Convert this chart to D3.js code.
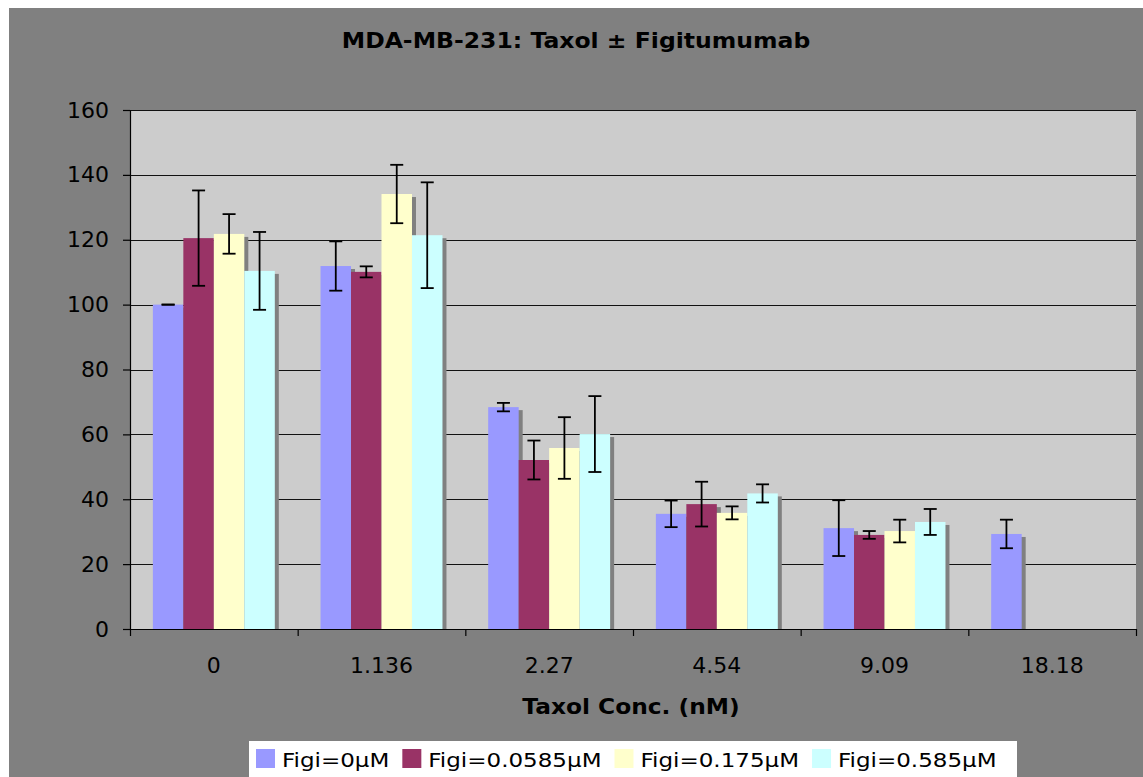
<!DOCTYPE html>
<html>
<head>
<meta charset="utf-8">
<script src="https://cdn.jsdelivr.net/npm/d3@7"></script>
<style>
  body { margin: 0; background: #fff; }
  text { font-family: "DejaVu Sans", Verdana, sans-serif; fill: #000; }
</style>
</head>
<body>
<div id="chart"></div>
<script>
// data
var categories = ['0', '1.136', '2.27', '4.54', '9.09', '18.18'];
var seriesNames = ['Figi=0\u03bcM', 'Figi=0.0585\u03bcM', 'Figi=0.175\u03bcM', 'Figi=0.585\u03bcM'];
var seriesColors = ['#9999ff', '#993366', '#ffffcc', '#ccffff'];
var figi0     = [100, 111.9, 68.4, 35.5, 31.1, 29.3];
var figi0585  = [120.5, 110.1, 52.1, 38.5, 29.0, null];
var figi175   = [121.8, 134.1, 55.8, 35.8, 30.2, null];
var figi585   = [110.4, 121.4, 60.1, 41.8, 33.0, null];
var err0      = [0, 7.6, 1.3, 4.1, 8.6, 4.4];
var err0585   = [14.7, 1.7, 6.0, 6.9, 1.2, null];
var err175    = [6.1, 9.0, 9.5, 2.0, 3.5, null];
var err585    = [12.0, 16.3, 11.7, 2.8, 4.0, null];
var yTicks    = [0, 20, 40, 60, 80, 100, 120, 140, 160];

var width = 1143, height = 777;
var plotLeft = 130, plotRight = 1136, plotTop = 110, plotBottom = 629;

var values = [figi0, figi0585, figi175, figi585];
var errors = [err0, err0585, err175, err585];

var bars = [];
values.forEach(function(vals, s) {
  vals.forEach(function(v, c) {
    if (v != null) bars.push({cat: categories[c], series: seriesNames[s], s: s, value: v, err: errors[s][c]});
  });
});

var svg = d3.select('#chart').append('svg')
  .attr('width', width)
  .attr('height', height);

// chart background
svg.append('rect')
  .attr('x', 9).attr('y', 8)
  .attr('width', width - 9).attr('height', height - 8)
  .attr('fill', '#808080');

var x0 = d3.scaleBand().domain(categories).range([plotLeft, plotRight]).padding(0);
var x1 = d3.scaleBand().domain(seriesNames).range([0, x0.bandwidth()])
  .paddingInner(0).paddingOuter(0.75);
var y = d3.scaleLinear().domain([0, 160]).range([plotBottom, plotTop]);
var color = d3.scaleOrdinal().domain(seriesNames).range(seriesColors);

// plot area
svg.append('rect')
  .attr('x', plotLeft).attr('y', plotTop)
  .attr('width', plotRight - plotLeft).attr('height', plotBottom - plotTop)
  .attr('fill', '#cccccc');

// gridlines
svg.append('g').selectAll('line')
  .data(yTicks.filter(function(d) { return d > 0; }))
  .enter().append('line')
  .attr('x1', plotLeft).attr('x2', plotRight)
  .attr('y1', function(d) { return Math.round(y(d)) + 0.5; })
  .attr('y2', function(d) { return Math.round(y(d)) + 0.5; })
  .attr('stroke', '#111')
  .attr('stroke-width', 1);

// bar shadows first, then bars
svg.append('g').selectAll('rect')
  .data(bars)
  .enter().append('rect')
  .attr('x', function(d) { return x0(d.cat) + x1(d.series) + 4; })
  .attr('y', function(d) { return y(d.value) + 3; })
  .attr('width', x1.bandwidth())
  .attr('height', function(d) { return Math.max(0, y(0) - y(d.value) - 3); })
  .attr('fill', '#808080');

svg.append('g').selectAll('rect')
  .data(bars)
  .enter().append('rect')
  .attr('x', function(d) { return x0(d.cat) + x1(d.series); })
  .attr('y', function(d) { return y(d.value); })
  .attr('width', x1.bandwidth())
  .attr('height', function(d) { return y(0) - y(d.value); })
  .attr('fill', function(d) { return color(d.series); });

// error bars
var eb = svg.append('g').selectAll('g')
  .data(bars)
  .enter().append('g')
  .attr('transform', function(d) {
    return 'translate(' + (x0(d.cat) + x1(d.series) + x1.bandwidth() / 2) + ',0)';
  })
  .attr('stroke', '#000')
  .attr('stroke-width', 1.8);

eb.append('line')
  .attr('x1', 0).attr('x2', 0)
  .attr('y1', function(d) { return y(d.value + d.err); })
  .attr('y2', function(d) { return y(d.value - d.err); });
eb.append('line')
  .attr('x1', -6.5).attr('x2', 6.5)
  .attr('y1', function(d) { return y(d.value + d.err); })
  .attr('y2', function(d) { return y(d.value + d.err); });
eb.append('line')
  .attr('x1', -6.5).attr('x2', 6.5)
  .attr('y1', function(d) { return y(d.value - d.err); })
  .attr('y2', function(d) { return y(d.value - d.err); });

// y axis
var yAxis = svg.append('g')
  .attr('transform', 'translate(' + plotLeft + ',0)')
  .call(d3.axisLeft(y).tickValues(yTicks).tickSize(7).tickPadding(14).tickSizeOuter(0));
yAxis.select('.domain').attr('stroke', '#000').attr('stroke-width', 1.2);
yAxis.selectAll('.tick line').attr('stroke', '#000').attr('stroke-width', 1.2);
yAxis.selectAll('.tick text')
  .style('font-size', '22px')
  .style('font-family', '"DejaVu Sans", Verdana, sans-serif')
  .attr('fill', '#000');

// x axis: tick marks at category edges, labels at centres
var xEdges = d3.scaleLinear().domain([0, categories.length]).range([plotLeft, plotRight]);
var xAxis = svg.append('g')
  .attr('transform', 'translate(0,' + plotBottom + ')')
  .call(d3.axisBottom(xEdges).ticks(categories.length).tickSize(7).tickFormat('').tickSizeOuter(0));
xAxis.select('.domain').attr('stroke', '#000').attr('stroke-width', 1.2);
xAxis.selectAll('.tick line').attr('stroke', '#000').attr('stroke-width', 1.2);

var xLabels = svg.append('g')
  .attr('transform', 'translate(0,' + plotBottom + ')')
  .call(d3.axisBottom(x0).tickSize(0).tickPadding(28));
xLabels.select('.domain').remove();
xLabels.selectAll('.tick text')
  .style('font-size', '22px')
  .style('font-family', '"DejaVu Sans", Verdana, sans-serif')
  .attr('fill', '#000');

// titles
function stretch(sel, k) {
  sel.each(function() {
    var w = this.getComputedTextLength();
    d3.select(this).attr('textLength', w * k).attr('lengthAdjust', 'spacingAndGlyphs');
  });
}

svg.append('text')
  .attr('x', 576).attr('y', 48)
  .attr('text-anchor', 'middle')
  .style('font-size', '21px').style('font-weight', 'bold')
  .text('MDA-MB-231: Taxol \u00b1 Figitumumab')
  .call(stretch, 1.12);

svg.append('text')
  .attr('x', 631).attr('y', 714)
  .attr('text-anchor', 'middle')
  .style('font-size', '21px').style('font-weight', 'bold')
  .text('Taxol Conc. (nM)')
  .call(stretch, 1.11);

// legend
var legend = svg.append('g');
legend.append('rect')
  .attr('x', 249).attr('y', 741)
  .attr('width', 768).attr('height', 50)
  .attr('fill', '#fff');

var lx = 256;
seriesNames.forEach(function(name) {
  legend.append('rect')
    .attr('x', lx).attr('y', 749)
    .attr('width', 19).attr('height', 19)
    .attr('fill', color(name));
  var t = legend.append('text')
    .attr('x', lx + 26).attr('y', 767)
    .style('font-size', '20px')
    .text(name);
  var w = t.node().getComputedTextLength() * 1.15;
  t.attr('textLength', w).attr('lengthAdjust', 'spacingAndGlyphs');
  lx = lx + 26 + w + 13;
});
</script>
</body>
</html>
